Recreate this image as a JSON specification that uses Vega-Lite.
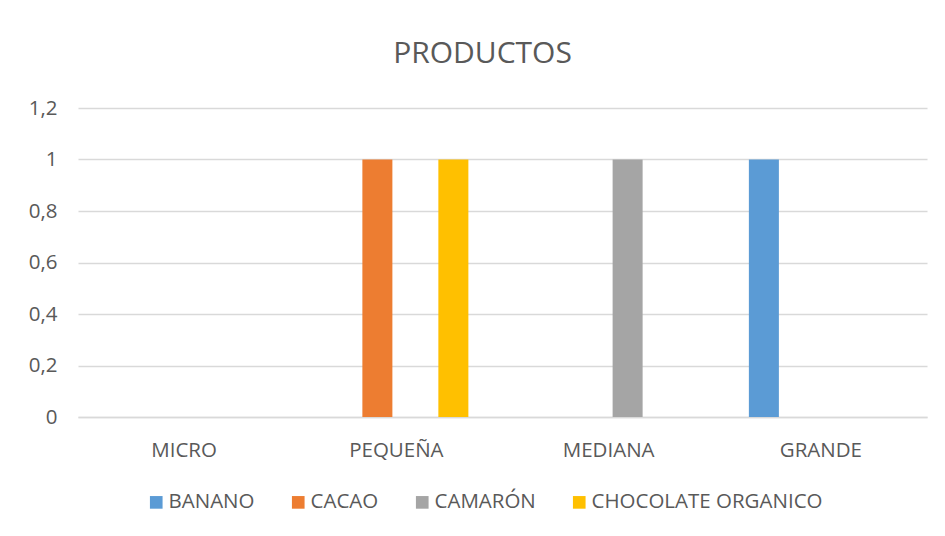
{
  "$schema": "https://vega.github.io/schema/vega-lite/v6.json",
  "autosize": {"type": "none"},
  "width": 849,
  "height": 309,
  "padding": {"left": 78, "top": 108, "right": 18, "bottom": 119},
  "background": "white",
  "title": {
    "text": "PRODUCTOS",
    "font": "Open Sans",
    "fontSize": 30,
    "fontWeight": "normal",
    "color": "#595959",
    "anchor": "middle",
    "dx": -20,
    "offset": 29
  },
  "data": {
    "values": [
      {"tamano": "MICRO", "producto": "BANANO", "valor": 0},
      {"tamano": "MICRO", "producto": "CACAO", "valor": 0},
      {"tamano": "MICRO", "producto": "CAMARÓN", "valor": 0},
      {"tamano": "MICRO", "producto": "CHOCOLATE ORGANICO", "valor": 0},
      {"tamano": "PEQUEÑA", "producto": "BANANO", "valor": 0},
      {"tamano": "PEQUEÑA", "producto": "CACAO", "valor": 1},
      {"tamano": "PEQUEÑA", "producto": "CAMARÓN", "valor": 0},
      {"tamano": "PEQUEÑA", "producto": "CHOCOLATE ORGANICO", "valor": 1},
      {"tamano": "MEDIANA", "producto": "BANANO", "valor": 0},
      {"tamano": "MEDIANA", "producto": "CACAO", "valor": 0},
      {"tamano": "MEDIANA", "producto": "CAMARÓN", "valor": 1},
      {"tamano": "MEDIANA", "producto": "CHOCOLATE ORGANICO", "valor": 0},
      {"tamano": "GRANDE", "producto": "BANANO", "valor": 1},
      {"tamano": "GRANDE", "producto": "CACAO", "valor": 0},
      {"tamano": "GRANDE", "producto": "CAMARÓN", "valor": 0},
      {"tamano": "GRANDE", "producto": "CHOCOLATE ORGANICO", "valor": 0}
    ]
  },
  "mark": {"type": "bar"},
  "encoding": {
    "x": {
      "field": "tamano",
      "type": "nominal",
      "sort": ["MICRO", "PEQUEÑA", "MEDIANA", "GRANDE"],
      "scale": {"paddingInner": 0.284, "paddingOuter": 0.142},
      "axis": {
        "title": null,
        "labelAngle": 0,
        "ticks": false,
        "labelPadding": 23,
        "labelFont": "Open Sans",
        "labelFontSize": 20.5,
        "labelColor": "#595959",
        "domainColor": "#d9d9d9",
        "domainWidth": 1.5
      }
    },
    "xOffset": {
      "field": "producto",
      "type": "nominal",
      "sort": ["BANANO", "CACAO", "CAMARÓN", "CHOCOLATE ORGANICO"],
      "scale": {"paddingInner": 0.21, "paddingOuter": 0.105}
    },
    "y": {
      "field": "valor",
      "type": "quantitative",
      "scale": {"domain": [0, 1.2], "nice": false},
      "axis": {
        "title": null,
        "values": [0, 0.2, 0.4, 0.6, 0.8, 1, 1.2],
        "labelExpr": "replace(format(datum.value, '~g'), '.', ',')",
        "ticks": false,
        "domain": false,
        "labelPadding": 21,
        "labelFont": "Open Sans",
        "labelFontSize": 20.5,
        "labelColor": "#595959",
        "gridColor": "#d9d9d9",
        "gridWidth": 1.5
      }
    },
    "color": {
      "field": "producto",
      "type": "nominal",
      "sort": ["BANANO", "CACAO", "CAMARÓN", "CHOCOLATE ORGANICO"],
      "scale": {
        "domain": ["BANANO", "CACAO", "CAMARÓN", "CHOCOLATE ORGANICO"],
        "range": ["#5B9BD5", "#ED7D31", "#A5A5A5", "#FFC000"]
      },
      "legend": {
        "title": null,
        "orient": "none",
        "direction": "horizontal",
        "legendX": 68,
        "legendY": 384,
        "symbolType": "square",
        "symbolSize": 160,
        "symbolStrokeWidth": 0,
        "labelOffset": 2,
        "columnPadding": 33,
        "labelFont": "Open Sans",
        "labelFontSize": 20.5,
        "labelColor": "#595959",
        "labelLimit": 400
      }
    }
  },
  "config": {
    "view": {"stroke": null}
  }
}
